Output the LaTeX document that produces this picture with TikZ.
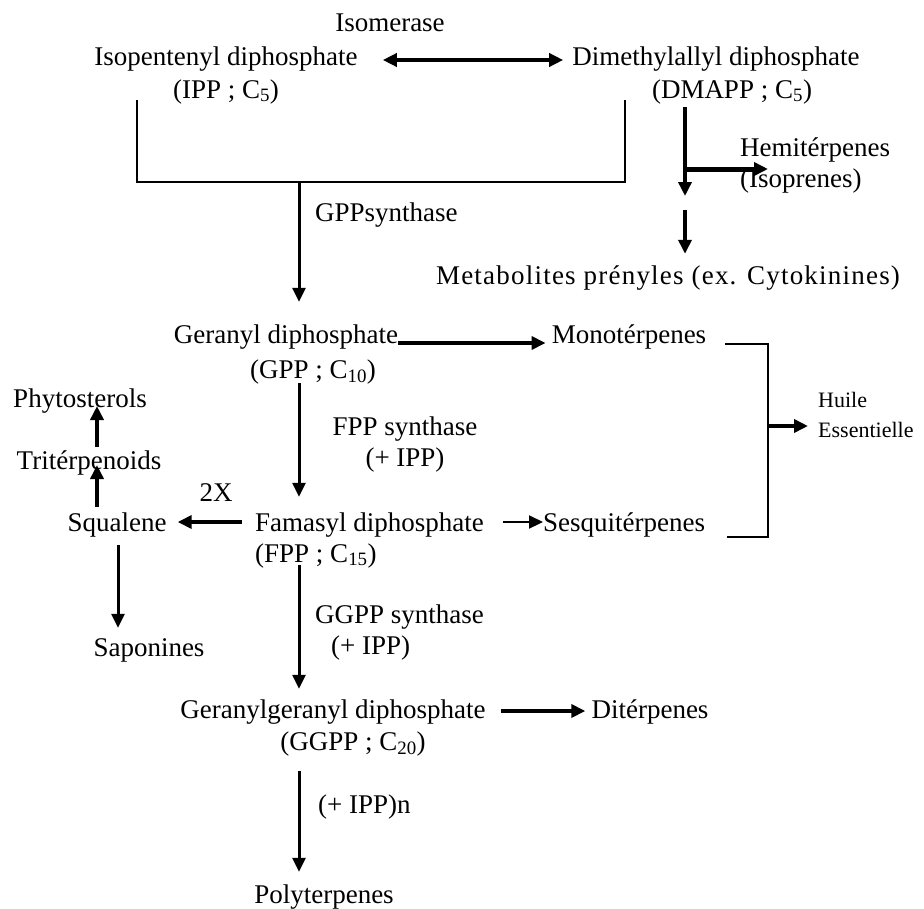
\documentclass[tikz,border=0pt]{standalone}
\usepackage{fontspec}
\setmainfont{Liberation Serif}
\usetikzlibrary{arrows.meta,calc}
\begin{document}
\begin{tikzpicture}[x=1pt,y=-1pt,
  lbl/.style={font=\fontsize{27}{31}\selectfont, inner sep=0pt, text height=20pt, text depth=2pt},
  lbl2/.style={font=\fontsize{27}{31}\selectfont, inner sep=0pt},
  small2/.style={font=\fontsize{22}{30}\selectfont, inner sep=0pt, align=left},
  tipT/.tip={Triangle[length=14pt,width=13pt]},
  arrA/.style={-tipT, line width=3pt},
  arrS/.style={-tipT, line width=2.2pt},
  arrB/.style={-tipT, line width=4pt},
  arrC/.style={-tipT, line width=3.5pt},
  dbl/.style={tipT-tipT, line width=4pt},
  brk/.style={line width=1.3pt}]
\fill[white] (0,0) rectangle (924,908);
\useasboundingbox (0,0) rectangle (924,908);

% trunk x positions
\coordinate (tx) at (299,0);
\coordinate (ux) at (97,0);
\coordinate (sx) at (118,0);
\coordinate (dx) at (685,0);

% ---------- nodes ----------
\node[lbl] (iso) at (390,22) {Isomerase};
\node[lbl] (ipp) at (226,56) {Isopentenyl diphosphate};
\node[lbl] (ippsub) at (226,89) {(IPP ; C\textsubscript{5})};
\node[lbl] (dma) at (716,56) {Dimethylallyl diphosphate};
\node[lbl] (dmasub) at (732,89) {(DMAPP ; C\textsubscript{5})};
\node[lbl,anchor=west] (gppsyn) at (315,212) {GPPsynthase};
\node[lbl2,align=left,anchor=west] (hemi) at (740,165) {Hemitérpenes\\(Isoprenes)};
\node[lbl] (meta) at (668,275) {\addfontfeatures{LetterSpace=4.5}Metabolites prényles (ex. Cytokinines)};
\node[lbl] (gpp) at (286,334) {Geranyl diphosphate};
\node[lbl] (gppsub) at (313,369) {(GPP ; C\textsubscript{10})};
\node[lbl] (mono) at (629,334) {Monotérpenes};
\node[lbl2,align=center] (fppsyn) at (405,445) {FPP synthase\\(+ IPP)};
\node[lbl,anchor=west] (fpp) at (255,522) {Famasyl diphosphate};
\node[lbl,anchor=west] (fppsub) at (255,553) {(FPP ; C\textsubscript{15})};
\node[lbl,anchor=west] (sesq) at (543,522) {Sesquitérpenes};
\node[lbl] (phyto) at (80,398) {Phytosterols};
\node[lbl] (trit) at (89,460) {Tritérpenoids};
\node[lbl] (twox) at (216,492) {2X};
\node[lbl] (squ) at (117,522) {Squalene};
\node[lbl] (sap) at (149,647) {Saponines};
\node[small2,anchor=west] (huile) at (818,415) {Huile\\Essentielle};
\node[lbl2,align=left,anchor=west] (ggppsyn) at (315,632) {GGPP synthase\\\hspace*{16pt}(+ IPP)};
\node[lbl] (ggpp) at (333,709) {Geranylgeranyl diphosphate};
\node[lbl] (ggppsub) at (353,741) {(GGPP ; C\textsubscript{20})};
\node[lbl] (dit) at (650,709) {Ditérpenes};
\node[lbl,anchor=west] (ippn) at (318,804) {(+ IPP)n};
\node[lbl] (poly) at (324,894) {Polyterpenes};

% ---------- coordinates ----------
\coordinate (bl) at (137,100);
\coordinate (bjl) at (137,182);
\coordinate (bjr) at (625,182);
\coordinate (br) at (625,100);
\coordinate (jn) at (299,182);
\coordinate (dend) at (685,196);
\coordinate (dbr) at (685,169);
\coordinate (htip) at (768,169);
\coordinate (d2) at (685,210);
\coordinate (bta) at (725,344);
\coordinate (btop) at (768,344);
\coordinate (bbot) at (768,537);
\coordinate (bba) at (727,537);
\coordinate (bmid) at (768,426);

% ---------- connectors ----------
\draw[dbl] ([xshift=25pt,yshift=-4pt]ipp.east) -- ([xshift=-9pt,yshift=-4pt]dma.west);
\draw[brk] (bl) -- (bjl) -- (bjr) -- (br);
\draw[arrC] ([yshift=-7pt]dmasub.south -| dx) -- (dend);
\draw[-tipT, line width=5pt] (dbr) -- (htip);
\draw[arrC] (d2) -- ([yshift=10pt]meta.north -| dx);
\draw[arrA] ([yshift=-0.65pt]jn) -- ([yshift=21pt]gpp.north -| tx);
\draw[arrB] ([yshift=-9pt]gpp.east) -- ([xshift=-6pt,yshift=-9pt]mono.west);
\draw[arrA] ([yshift=-3pt]gppsub.south -| tx) -- ([yshift=14pt]fpp.north -| tx);
\draw[arrS] ([xshift=19pt]fpp.east) -- (sesq.west);
\draw[arrB] ([xshift=-13pt]fpp.west) -- ([xshift=11pt]squ.east);
\draw[arrC] ([yshift=4pt]squ.north -| ux) -- ([yshift=-5pt]trit.center -| ux);
\draw[arrC] ([yshift=2pt]trit.north -| ux) -- ([yshift=-8pt]phyto.center -| ux);
\draw[arrA] ([yshift=-12pt]squ.south -| sx) -- ([yshift=8pt]sap.north -| sx);
\draw[brk] (bta) -- (btop) -- (bbot) -- (bba);
\draw[arrB] ([xshift=-0.65pt]bmid) -- ([xshift=-10pt]huile.west |- bmid);
\draw[arrA] ([yshift=-1pt]fppsub.south -| tx) -- ([yshift=9pt]ggpp.north -| tx);
\draw[arrB] ([xshift=15pt,yshift=-2pt]ggpp.east) -- ([xshift=-6pt,yshift=-2pt]dit.west);
\draw[arrA] ([yshift=-19pt]ggppsub.south -| tx) -- ([yshift=11pt]poly.north -| tx);
\end{tikzpicture}
\end{document}
